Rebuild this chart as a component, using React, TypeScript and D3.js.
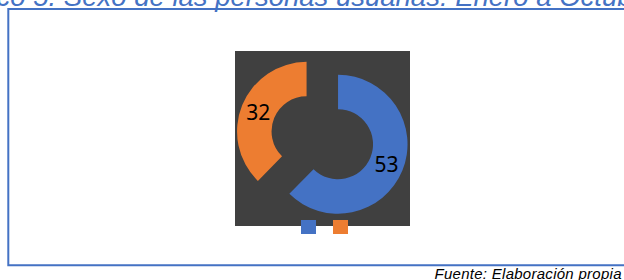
import * as d3 from 'd3';
import React from 'react';

// data
const categories = ['Hombres', 'Mujeres'];
const values = [53, 32];
const colors = ['#4472C4', '#ED7D31'];
const titleText = 'Gráfico 5. Sexo de las personas usuarias: Enero a Octubre 2021';
const sourceText = 'Fuente: Elaboración propia';

const W = 624;
const H = 280;

const App = () => {
  // plot area (dark square) of the doughnut
  const plot = { x: 235, y: 51, w: 175, h: 175 };
  const cx = 322.3;
  const cy = 137.8;
  const outerR = 69.5;
  const innerR = 35;
  const explode = 17;

  const pie = d3
    .pie<number>()
    .sort(null)
    .value((d) => d);
  const slices = pie(values);

  const arc = d3
    .arc<d3.PieArcDatum<number>>()
    .innerRadius(innerR)
    .outerRadius(outerR);

  const labelArc = d3
    .arc<d3.PieArcDatum<number>>()
    .innerRadius((innerR + outerR) / 2)
    .outerRadius((innerR + outerR) / 2);

  // legend: small squares only, under the plot
  const legendX = d3
    .scalePoint<string>()
    .domain(categories)
    .range([301, 333]);

  return (
    <svg
      width={W}
      height={H}
      style={{ position: 'absolute', left: 0, top: 0, display: 'block' }}
    >
      <rect x={0} y={0} width={W} height={H} fill="#ffffff" />
      {/* title, mostly cut off above the frame (as in the source) */}
      <text
        x={-63}
        y={5.5}
        fill="#4472C4"
        fontFamily="'Liberation Sans', Arial, sans-serif"
        fontStyle="italic"
        fontSize={27.5}
      >
        {titleText}
      </text>
      {/* chart frame */}
      <path
        d={`M${W + 2},9 H8.3 V265.3 H${W + 2}`}
        fill="none"
        stroke="#4472C4"
        strokeWidth={2}
      />
      <rect x={plot.x} y={plot.y} width={plot.w} height={plot.h} fill="#404040" />
      {slices.map((s, i) => {
        const mid = (s.startAngle + s.endAngle) / 2;
        const dx = Math.sin(mid) * explode;
        const dy = -Math.cos(mid) * explode;
        const [lx, ly] = labelArc.centroid(s);
        return (
          <g key={categories[i]} transform={`translate(${cx + dx},${cy + dy})`}>
            <path d={arc(s) || ''} fill={colors[i]} />
            <text
              x={lx}
              y={ly}
              textAnchor="middle"
              dominantBaseline="central"
              fill="#000000"
              fontFamily="'Noto Sans', sans-serif"
              fontSize={21}
            >
              {values[i]}
            </text>
          </g>
        );
      })}
      {categories.map((c, i) => (
        <rect
          key={c}
          x={legendX(c)}
          y={220}
          width={15}
          height={14}
          fill={colors[i]}
        />
      ))}
      <text
        x={621.5}
        y={278.5}
        textAnchor="end"
        fill="#000000"
        fontFamily="'Liberation Sans', Arial, sans-serif"
        fontStyle="italic"
        fontSize={15}
        textLength={187}
        lengthAdjust="spacing"
      >
        {sourceText}
      </text>
    </svg>
  );
};

export default App;
